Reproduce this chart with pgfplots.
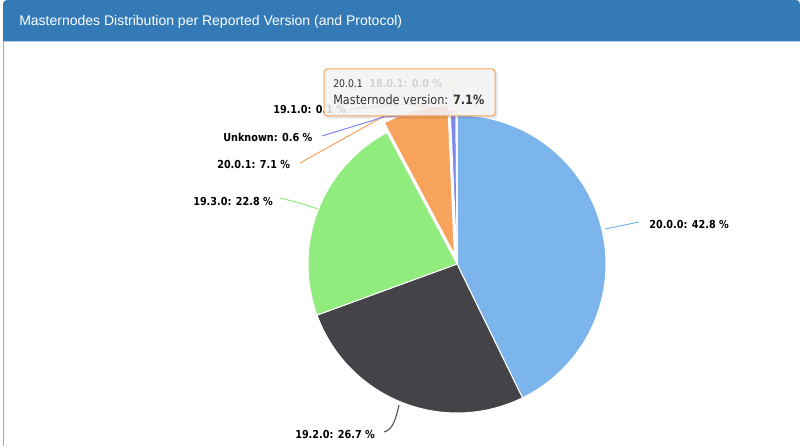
\documentclass[border=0pt]{standalone}
\usepackage{pgfplots}
\pgfplotsset{compat=1.18}
\usepackage{fontspec}
\setmainfont{Liberation Sans}
\newfontfamily\lbl{DejaVu Sans}[FakeStretch=0.88]
\definecolor{cA}{HTML}{7CB5EC}
\definecolor{cB}{HTML}{434348}
\definecolor{cC}{HTML}{90ED7D}
\definecolor{cD}{HTML}{F7A35C}
\definecolor{cE}{HTML}{8085E9}
\definecolor{cF}{HTML}{F15C80}
\definecolor{cG}{HTML}{E4D354}
\definecolor{hdr}{HTML}{337AB7}
\definecolor{hdrline}{HTML}{B5CFEA}
\definecolor{bord}{HTML}{8FADCC}
\definecolor{tipbg}{HTML}{F7F7F7}
\definecolor{c333}{HTML}{333333}
% shares (percent) per reported version
\def\vA{42.8}% 20.0.0
\def\vB{26.7}% 19.2.0
\def\vC{22.8}% 19.3.0
\def\vD{7.1}%  20.0.1
\def\vE{0.6}%  Unknown
\def\vF{0.1}%  19.1.0
\def\vG{0.0}%  18.0.1
\pgfmathsetmacro\tot{\vA+\vB+\vC+\vD+\vE+\vF+\vG}
\pgfmathsetmacro\aB{90-360*\vA/\tot}
\pgfmathsetmacro\aC{\aB-360*\vB/\tot}
\pgfmathsetmacro\aD{\aC-360*\vC/\tot}
\pgfmathsetmacro\aE{\aD-360*\vD/\tot}
\pgfmathsetmacro\aF{\aE-360*\vE/\tot}
\pgfmathsetmacro\aG{\aF-360*\vF/\tot}
\pgfmathsetmacro\mD{(\aD+\aE)/2}
\pgfmathsetmacro\oX{457+10*cos(\mD)}
\pgfmathsetmacro\oY{182+10*sin(\mD)}
\begin{document}
\begin{tikzpicture}[x=0.75pt,y=0.75pt,
  lab/.style={anchor=base west, inner sep=0, font=\lbl\bfseries\fontsize{8.25}{9}\selectfont, text=black},
  con/.style={line width=0.75pt}]
\useasboundingbox (0,0) rectangle (800,446);
\fill[white] (0,0) rectangle (800,446);
% panel
\fill[bord] (2.5,0) rectangle (4,405);
\fill[hdr] (3,405) rectangle (800,440);
\fill[hdr, rounded corners=3pt] (3,425) rectangle (800,446);
\fill[hdrline] (4,403.5) rectangle (800,405);
\node[anchor=base west, inner sep=0, text=white, font=\fontsize{10.5}{12}\selectfont] at (19,420) {Masternodes Distribution per Reported Version (and Protocol)};
\begin{axis}[at={(0,0)}, anchor=origin, x=0.75pt, y=0.75pt,
  xmin=0, xmax=800, ymin=0, ymax=446, hide axis, clip=false, scale only axis]
% slices
\addplot[fill=cA, draw=white, line width=0.75pt, line join=round, domain=\aB:90, samples=150, variable=\t]
  ({457+149*cos(\t)},{182+149*sin(\t)}) -- (axis cs:457,182) -- cycle;
\addplot[fill=cB, draw=white, line width=0.75pt, line join=round, domain=\aC:\aB, samples=100, variable=\t]
  ({457+149*cos(\t)},{182+149*sin(\t)}) -- (axis cs:457,182) -- cycle;
\addplot[fill=cC, draw=white, line width=0.75pt, line join=round, domain=\aD:\aC, samples=100, variable=\t]
  ({457+149*cos(\t)},{182+149*sin(\t)}) -- (axis cs:457,182) -- cycle;
\addplot[fill=cD, draw=white, line width=0.75pt, line join=round, domain=\aE:\aD, samples=40, variable=\t]
  ({\oX+149*cos(\t)},{\oY+149*sin(\t)}) -- (axis cs:\oX,\oY) -- cycle;
\addplot[fill=cE, draw=white, line width=0.75pt, line join=round, domain=\aF:\aE, samples=5, variable=\t]
  ({457+149*cos(\t)},{182+149*sin(\t)}) -- (axis cs:457,182) -- cycle;
\addplot[fill=cF, draw=white, line width=0.75pt, line join=round, domain=\aG:\aF, samples=2, variable=\t]
  ({457+149*cos(\t)},{182+149*sin(\t)}) -- (axis cs:457,182) -- cycle;
% connectors
\draw[con, cA] (axis cs:605,217) -- (axis cs:639,224);
\draw[con, cB] (axis cs:399,41) .. controls (axis cs:396,28) and (axis cs:393,16) .. (axis cs:384,14);
\draw[con, cC] (axis cs:318,237) .. controls (axis cs:300,243) .. (axis cs:280,248);
\draw[con, cD] (axis cs:386,331) -- (axis cs:300,283);
\draw[con, cE] (axis cs:453,333) -- (axis cs:384,329) -- (axis cs:322,310);
\draw[con, cF] (axis cs:456,334) -- (axis cs:410,342) -- (axis cs:350,337);
\draw[con, cG] (axis cs:457,332) -- (axis cs:452,362) -- (axis cs:442,362);
% data labels
\node[lab] at (axis cs:649,217) {20.0.0: 42.8 \%};
\node[lab] at (axis cs:295,7) {19.2.0: 26.7 \%};
\node[lab] at (axis cs:193,240) {19.3.0: 22.8 \%};
\node[lab] at (axis cs:217,277) {20.0.1: 7.1 \%};
\node[lab] at (axis cs:223,304.3) {Unknown: 0.6 \%};
\node[lab] at (axis cs:273,332.7) {19.1.0: 0.1 \%};
\node[lab] at (axis cs:369,358.7) {18.0.1: 0.0 \%};
% tooltip
\fill[black, opacity=0.05, rounded corners=2.25pt] (axis cs:326,327) rectangle (axis cs:498,375);
\fill[black, opacity=0.05, rounded corners=2.25pt] (axis cs:325,328) rectangle (axis cs:497,376);
\draw[draw=cD, fill=tipbg, fill opacity=0.85, rounded corners=2.25pt, line width=0.75pt] (axis cs:324,330) rectangle (axis cs:495,377);
\node[anchor=base west, inner sep=0, text=c333, font=\lbl\fontsize{7.9}{9}\selectfont] at (axis cs:333,358.7) {20.0.1};
\node[anchor=base west, inner sep=0, text=c333, font=\lbl\fontsize{9.6}{11}\selectfont] at (axis cs:333,341) {Masternode version: \textbf{7.1\%}};
\end{axis}
\end{tikzpicture}
\end{document}
